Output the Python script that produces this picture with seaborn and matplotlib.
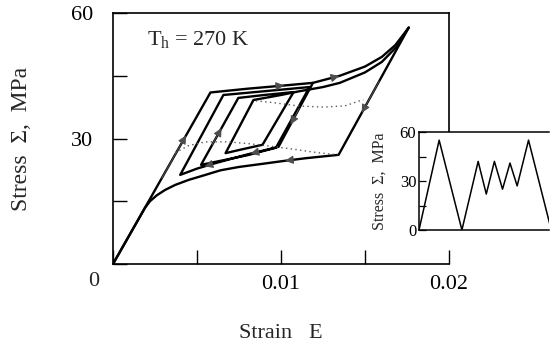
import numpy as np
import matplotlib
matplotlib.use("Agg")
import matplotlib.pyplot as plt
import seaborn as sns

# ---- first cycle: loading branch (elastic line, then transformation plateau up to the peak)
load_strain = [0.0, 0.0058, 0.0080, 0.0100, 0.0119, 0.0135, 0.0150, 0.0160, 0.0168, 0.0176]
load_stress = [0.0, 41.0, 41.9, 42.6, 43.3, 45.0, 47.2, 49.5, 52.3, 56.5]

# ---- first cycle: unloading branch (elastic drop, reverse plateau, back to the origin)
unload_strain = [0.0176, 0.01343, 0.0115, 0.0101, 0.0090, 0.0075, 0.0064, 0.0055, 0.0045,
                 0.0037, 0.0031, 0.0026, 0.0022, 0.0019, 0.0]
unload_stress = [56.5, 26.1, 25.3, 24.6, 24.0, 23.2, 22.4, 21.3, 20.1,
                 18.9, 17.7, 16.4, 15.0, 13.4, 0.0]

# ---- second cycle: partial unload/reload loops nested inside the outer loop
loops_strain = [0.0119, 0.00985, 0.0080, 0.0060, 0.0050, 0.0040,
                0.00657, 0.0090, 0.0117,
                0.0097, 0.0080, 0.00524,
                0.00746, 0.0090, 0.01075,
                0.0089, 0.00756, 0.0067,
                0.00836, 0.0100, 0.0111, 0.0125, 0.0135, 0.0150, 0.0160, 0.0169, 0.0176]
loops_stress = [43.3, 28.0, 26.2, 24.0, 22.8, 21.3,
                40.4, 41.3, 42.3,
                27.8, 26.0, 23.7,
                39.7, 40.4, 41.1,
                28.5, 27.3, 26.5,
                39.2, 40.4, 41.3, 42.3, 43.3, 45.8, 48.3, 52.0, 56.5]

# ---- dotted reference curves through the inner loops
dot_upper_strain = [0.0085, 0.0095, 0.0110, 0.0125, 0.0138, 0.0149]
dot_upper_stress = [39.0, 38.6, 37.8, 37.5, 37.8, 39.3]
dot_lower_strain = [0.0037, 0.0045, 0.0055, 0.0068, 0.0080, 0.0095, 0.0110, 0.0122, 0.0134]
dot_lower_stress = [26.6, 28.3, 29.2, 29.2, 28.8, 28.1, 27.3, 26.6, 26.1]

# ---- loading history shown in the inset
history_step = [0, 62, 132, 182, 207, 232, 257, 280, 302, 337, 407]
history_stress = [0, 55, 0, 42, 22, 42, 25, 41, 27, 55, 0]

x_ticks = [0.0, 0.005, 0.01, 0.015, 0.02]
x_ticklabels = ["", "", "0.01", "", "0.02"]
y_ticks = [0, 15, 30, 45, 60]
y_ticklabels = ["", "", "30", "", "60"]
inset_ticklabels = ["0", "", "30", "", "60"]

sns.set_theme(style="ticks")
plt.rcParams["font.family"] = ["Liberation Serif", "DejaVu Serif"]
plt.rcParams["mathtext.fontset"] = "custom"
plt.rcParams["mathtext.rm"] = "Liberation Serif"
plt.rcParams["mathtext.it"] = "Liberation Serif:italic"

W, H = 553, 349
fig = plt.figure(figsize=(W / 100, H / 100), dpi=100)
fig.patch.set_facecolor("white")
ax = fig.add_axes([113 / W, 1 - 264 / H, 336 / W, 251 / H])
ax.set_facecolor("white")

line_kw = dict(color="black", linewidth=1.7, sort=False, estimator=None, ax=ax, legend=False)
sns.lineplot(x=load_strain, y=load_stress, **line_kw)
sns.lineplot(x=unload_strain, y=unload_stress, **line_kw)
sns.lineplot(x=loops_strain, y=loops_stress, **line_kw)
ax.plot(dot_upper_strain, dot_upper_stress, color="0.35", lw=1.0, ls=(0, (1, 2.4)))
ax.plot(dot_lower_strain, dot_lower_stress, color="0.35", lw=1.0, ls=(0, (1, 2.4)))


def head(xs, ys, seg, frac):
    """Arrowhead on segment `seg` of a path, pointing along the path direction."""
    x0, y0, x1, y1 = xs[seg], ys[seg], xs[seg + 1], ys[seg + 1]
    tip = (x0 + frac * (x1 - x0), y0 + frac * (y1 - y0))
    back = max(frac - 0.25, 0.0)
    tail = (x0 + back * (x1 - x0), y0 + back * (y1 - y0))
    ax.annotate("", xy=tip, xytext=tail,
                arrowprops=dict(arrowstyle="-|>", mutation_scale=12.5, color="0.3",
                                lw=0.8, shrinkA=0, shrinkB=0))


head(load_strain, load_stress, 0, 0.75)
head(load_strain, load_stress, 3, 0.10)
head(load_strain, load_stress, 4, 0.98)
head(unload_strain, unload_stress, 0, 0.67)
head(unload_strain, unload_stress, 2, 0.90)
head(loops_strain, loops_stress, 0, 0.65)
head(loops_strain, loops_stress, 1, 0.90)
head(loops_strain, loops_stress, 3, 0.55)
head(loops_strain, loops_stress, 11, 0.55)

ax.set_xlim(0, 0.02)
ax.set_ylim(0, 60)
ax.set_xticks(x_ticks)
ax.set_xticklabels(x_ticklabels)
ax.set_yticks(y_ticks)
ax.set_yticklabels(y_ticklabels)
ax.tick_params(axis="both", direction="in", length=10, width=1.0, colors="black", labelsize=16)
ax.tick_params(axis="x", pad=8)
ax.tick_params(axis="y", pad=14)
for s in ax.spines.values():
    s.set_color("black")
    s.set_linewidth(1.2)
ax.spines["right"].set_bounds(25, 60)
ax.annotate("0", xy=(0, 0), xytext=(-19, -18), textcoords="offset pixels",
            ha="center", va="center", fontsize=16)

ax.set_xlabel("Strain   E", fontsize=16, va="center")
ax.xaxis.set_label_coords(0.5, -(333 - 264) / 251)
ax.set_ylabel("Stress  Σ,  MPa", fontsize=17, va="center")
ax.yaxis.set_label_coords((22 - 113) / 336, 0.5)

ax.text((147 - 113) / 336, 1 - (45 - 13) / 251, r"T$_{\mathrm{h}}$ = 270 K",
        transform=ax.transAxes, ha="left", va="baseline", fontsize=16)

# ---- inset: stress history
axin = fig.add_axes([419 / W, 1 - 230 / H, 130 / W, 98 / H])
axin.set_facecolor("white")
sns.lineplot(x=history_step, y=history_stress, color="black", linewidth=1.1,
             sort=False, estimator=None, ax=axin, legend=False)
axin.set_xlim(0, 400)
axin.set_ylim(0, 60)
axin.set_xticks([])
axin.set_yticks(y_ticks)
axin.set_yticklabels(inset_ticklabels)
axin.tick_params(axis="y", direction="in", length=5, width=0.9, pad=2, labelsize=12, colors="black")
axin.spines["right"].set_visible(False)
for s in ("left", "top", "bottom"):
    axin.spines[s].set_color("black")
    axin.spines[s].set_linewidth(1.1)
axin.set_xlabel("")
axin.set_ylabel("Stress  Σ,  MPa", fontsize=11.5, va="center")
axin.yaxis.set_label_coords((380 - 419) / 130, 0.5)

fig.savefig("out.png", dpi=100, facecolor="white")
